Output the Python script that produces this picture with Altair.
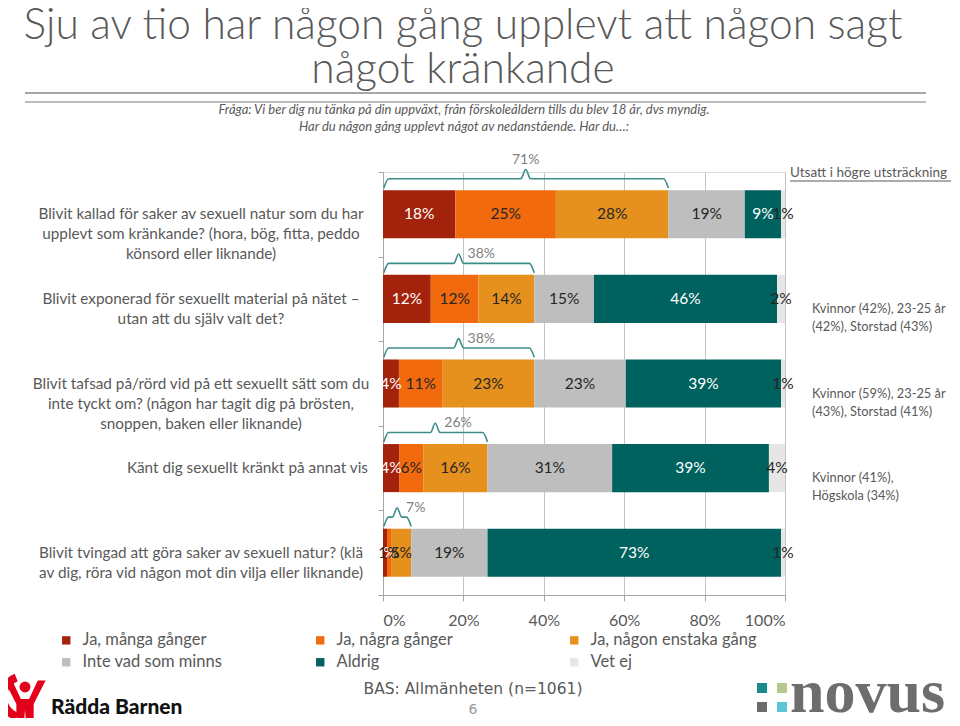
import altair as alt
import pandas as pd

# ---------------- data ----------------
questions = [
    "Blivit kallad för saker av sexuell natur som du har\nupplevt som kränkande? (hora, bög, fitta, peddo\nkönsord eller liknande)",
    "Blivit exponerad för sexuellt material på nätet –\nutan att du själv valt det?",
    "Blivit tafsad på/rörd vid på ett sexuellt sätt som du\ninte tyckt om? (någon har tagit dig på brösten,\nsnoppen, baken eller liknande)",
    "Känt dig sexuellt kränkt på annat vis",
    "Blivit tvingad att göra saker av sexuell natur? (klä\nav dig, röra vid någon mot din vilja eller liknande)",
]
categories = [
    "Ja, många gånger",
    "Ja, några gånger",
    "Ja, någon enstaka gång",
    "Inte vad som minns",
    "Aldrig",
    "Vet ej",
]
many = [18, 12, 4, 4, 1]
some = [25, 12, 11, 6, 1]
once = [28, 14, 23, 16, 5]
not_remember = [19, 15, 23, 31, 19]
never = [9, 46, 39, 39, 73]
dont_know = [1, 2, 1, 4, 1]
subgroups = [
    "",
    "Kvinnor (42%), 23-25 år\n(42%), Storstad (43%)",
    "Kvinnor (59%), 23-25 år\n(43%), Storstad (41%)",
    "Kvinnor (41%),\nHögskola (34%)",
    "",
]
x_ticks = [0, 0.2, 0.4, 0.6, 0.8, 1.0]
title_text = "Sju av tio har någon gång upplevt att någon sagt\nnågot kränkande"
question_text = ("Fråga: Vi ber dig nu tänka på din uppväxt, från förskoleåldern tills du blev 18 år, dvs myndig.\n"
                 "Har du någon gång upplevt något av nedanstående. Har du…:")
note_header = "Utsatt i högre utsträckning"
base_note = "BAS: Allmänheten (n=1061)"
page_no = "6"

# ---------------- styles ----------------
colors = ["#A3220C", "#F26A0E", "#E6901E", "#BEBEBE", "#00625E", "#E6E6E6"]
FONT = "Lato"
GRAY = "#595959"
BRACE = "#3E8C88"
# plot origin in page pixels: (383, 172)
OX, OY = 383, 172

series = [many, some, once, not_remember, never, dont_know]
rows = []
for k, (cat, vals) in enumerate(zip(categories, series)):
    for i, v in enumerate(vals):
        rows.append({"row": i, "k": k, "category": cat, "value": v})
df = pd.DataFrame(rows)

n = len(questions)
yes_sum = [a + b + c for a, b, c in zip(many, some, once)]
totals = [sum(s[i] for s in series) for i in range(n)]

brace_pts = []
brace_lbl = []
for i, (yes, tot) in enumerate(zip(yes_sum, totals)):
    s = yes / tot
    d = min(0.012, s / 6)
    xm = s / 2
    e, h, t = i - 0.31, i - 0.42, i - 0.53
    pts = [(0.002, e), (0.002 + d, h), (xm - d, h), (xm, t), (xm + d, h), (s - d, h), (s, e)]
    for j, (bx, by) in enumerate(pts):
        brace_pts.append({"row": i, "seq": j, "bx": bx, "by": by})
    brace_lbl.append({"row": i, "xm": xm, "lab": f"{yes}%"})
df_brace = pd.DataFrame(brace_pts)
df_blab = pd.DataFrame(brace_lbl)
df_q = pd.DataFrame({"row": list(range(n)), "q": questions, "note": subgroups})

xs = alt.Scale(domain=[0, 1], nice=False, zero=True)
ys = alt.Scale(domain=[-0.5, n - 0.5], reverse=True, nice=False, zero=False)

x_axis = alt.Axis(values=x_ticks, format=".0%", grid=True, gridColor="#C4C4C4", gridWidth=1,
                  domainColor="#A6A6A6", tickColor="#A6A6A6", tickSize=6, labelFontSize=16,
                  labelColor=GRAY, labelFont=FONT, labelPadding=11, title=None)
y_axis = alt.Axis(values=[i - 0.5 for i in range(n + 1)], labels=False, grid=False, tickSize=5,
                  domainColor="#A6A6A6", tickColor="#A6A6A6", title=None)

base = alt.Chart(df).transform_stack(
    stack="value", groupby=["row"], as_=["x0", "x1"], offset="normalize",
    sort=[alt.SortField("k", order="ascending")]
).transform_calculate(
    yt="datum.row - 0.284", yb="datum.row + 0.284", xm="(datum.x0 + datum.x1) / 2",
    lab="datum.value + '%'"
)

bars = base.mark_bar(strokeWidth=0).encode(
    x=alt.X("x0:Q", scale=xs, axis=x_axis),
    x2="x1:Q",
    y=alt.Y("yt:Q", scale=ys, axis=y_axis),
    y2="yb:Q",
    color=alt.Color("category:N", scale=alt.Scale(domain=categories, range=colors),
                    legend=alt.Legend(orient="none", legendX=-325, legendY=460, columns=3,
                                      direction="horizontal",
                                      symbolType="square", symbolSize=70, symbolStrokeWidth=0,
                                      labelFontSize=16.5, labelFont=FONT, labelColor=GRAY,
                                      labelOffset=8, columnPadding=63, rowPadding=5,
                                      gridAlign="all", labelLimit=400, title=None, padding=0)),
)

bar_labels = base.mark_text(font=FONT, fontSize=15.5, baseline="middle", align="center").encode(
    x=alt.X("xm:Q", scale=xs, title=None),
    y=alt.Y("row:Q", scale=ys, title=None),
    text="lab:N",
    color=alt.condition("datum.k == 0 || datum.k == 4", alt.value("#FFFFFF"), alt.value("#262626")),
)

braces = alt.Chart(df_brace).mark_line(color=BRACE, strokeWidth=1.6, interpolate="monotone").encode(
    x=alt.X("bx:Q", scale=xs, title=None),
    y=alt.Y("by:Q", scale=ys, title=None),
    detail="row:N",
    order="seq:Q",
)

brace_top = alt.Chart(df_blab).transform_filter("datum.row == 0").transform_calculate(
    ly="datum.row - 0.64").mark_text(font=FONT, fontSize=14, color="#7F7F7F", align="center",
                                     baseline="middle").encode(
    x=alt.X("xm:Q", scale=xs, title=None), y=alt.Y("ly:Q", scale=ys, title=None), text="lab:N")

brace_rest = alt.Chart(df_blab).transform_filter("datum.row > 0").transform_calculate(
    ly="datum.row - 0.53").mark_text(font=FONT, fontSize=14, color="#7F7F7F", align="left",
                                     baseline="middle", dx=9).encode(
    x=alt.X("xm:Q", scale=xs, title=None), y=alt.Y("ly:Q", scale=ys, title=None), text="lab:N")

q_multi = alt.Chart(df_q).transform_filter("indexof(datum.q, '\\n') >= 0").mark_text(
    font=FONT, fontSize=15.3, color=GRAY, align="center", baseline="middle", lineBreak="\n",
    lineHeight=20).encode(x=alt.value(201 - OX), y=alt.Y("row:Q", scale=ys, title=None), text="q:N")

q_single = alt.Chart(df_q).transform_filter("indexof(datum.q, '\\n') < 0").mark_text(
    font=FONT, fontSize=15.3, color=GRAY, align="right", baseline="middle").encode(
    x=alt.value(368 - OX), y=alt.Y("row:Q", scale=ys, title=None), text="q:N")

notes = alt.Chart(df_q).transform_filter("datum.note != ''").mark_text(
    font=FONT, fontSize=12.8, color=GRAY, align="left", baseline="middle", lineBreak="\n",
    lineHeight=18, dy=10).encode(
    x=alt.value(812 - OX), y=alt.Y("row:Q", scale=ys, title=None), text="note:N")


def txt(text, x, y, **kw):
    return alt.Chart(alt.Data(values=[{"t": text}])).mark_text(lineBreak="\n", **kw).encode(
        x=alt.value(x - OX), y=alt.value(y - OY), text="t:N")


def hrule(x1, x2, y, color, width):
    return alt.Chart(alt.Data(values=[{}])).mark_rule(color=color, strokeWidth=width).encode(
        x=alt.value(x1 - OX), x2=alt.value(x2 - OX), y=alt.value(y - OY))


title = txt(title_text, 463, 39, font=FONT, fontSize=42.5, fontWeight=300, color=GRAY,
            align="center", baseline="alphabetic", lineHeight=44)
rule1 = hrule(25, 926, 93, "#A6A6A6", 2)
rule2 = hrule(25, 926, 102, "#A6A6A6", 1.5)
question = txt(question_text, 464, 110, font=FONT, fontSize=13, fontStyle="italic", color=GRAY,
               align="center", baseline="middle", lineHeight=17)
header = txt(note_header, 790, 173, font=FONT, fontSize=13.5, color=GRAY, align="left",
             baseline="middle")
underline = hrule(790, 951, 181, GRAY, 1)
bas = txt(base_note, 473, 689, font="DejaVu Sans", fontSize=15.5, color=GRAY, align="center",
          baseline="middle")
page = txt(page_no, 473, 710, font="DejaVu Sans", fontSize=14, color="#9A9A9A", align="center",
           baseline="middle")

# Rädda Barnen logo
rb_text = txt("Rädda Barnen", 51, 708, font=FONT, fontSize=21, fontWeight=900, color="#111111",
              align="left", baseline="middle")
one = alt.Data(values=[{}])
rb_arc = alt.Chart(one).mark_arc(color="#E2001A", radius=25, radius2=17, theta=3.5, theta2=5.9).encode(
    x=alt.value(24 - OX), y=alt.value(697 - OY))
rb_head = alt.Chart(one).mark_point(shape="circle", filled=True, size=120, color="#E2001A", opacity=1).encode(
    x=alt.value(25 - OX), y=alt.value(687 - OY))
rb_body = alt.Chart(one).mark_point(
    shape="M-1,-1 L-0.62,-1 L-0.2,-0.1 L0.2,-0.1 L0.62,-1 L1,-1 L0.42,0.15 L0.42,1 L0.05,1 L0,0.45 L-0.05,1 L-0.42,1 L-0.42,0.15 Z",
    filled=True, size=1700, color="#E2001A", opacity=1, strokeWidth=0).encode(
    x=alt.value(25 - OX), y=alt.value(701 - OY))

# Novus logo
novus_sq = []
for c, (cx, cy) in zip(["#1B8A8C", "#B7C98C", "#6B6B6B", "#5CC6D6"],
                       [(762, 688), (782, 688), (762, 707), (782, 707)]):
    novus_sq.append(alt.Chart(one).mark_square(size=100, color=c, opacity=1).encode(
        x=alt.value(cx - OX), y=alt.value(cy - OY)))
novus = txt("novus", 790, 712, font="Liberation Serif", fontSize=62, fontWeight="bold",
            color="#6D6D6D", align="left", baseline="alphabetic")

chart = alt.layer(
    bars, bar_labels, braces, brace_top, brace_rest, q_multi, q_single, notes,
    title, rule1, rule2, question, header, underline, bas, page,
    rb_arc, rb_head, rb_body, rb_text, *novus_sq, novus,
).properties(
    width=402, height=423,
    autosize=alt.AutoSizeParams(type="none"),
    padding={"left": OX - 8, "top": OY - 8, "right": 944 - (OX - 8) - 402, "bottom": 710 - (OY - 8) - 423},
).configure_view(stroke=None).configure(font=FONT)

chart.save("out.html", embed_options={"renderer": "svg", "actions": False})
